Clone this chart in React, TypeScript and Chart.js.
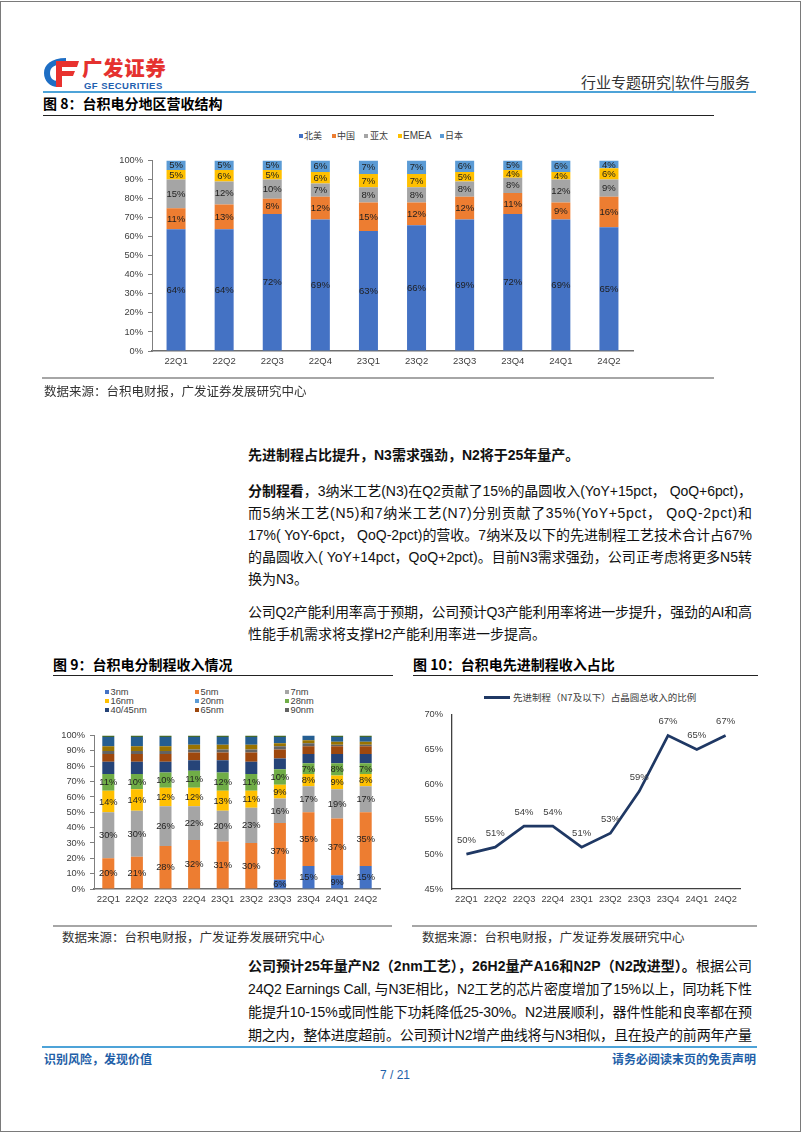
import React, { useEffect, useLayoutEffect, useRef } from "react";
import { Chart, registerables } from "chart.js";

Chart.register(...registerables);

// ---------- data ----------
const quarters = ["22Q1", "22Q2", "22Q3", "22Q4", "23Q1", "23Q2", "23Q3", "23Q4", "24Q1", "24Q2"];

// Fig 8: revenue by region (%)
const regionNames = ["北美", "中国", "亚太", "EMEA", "日本"];
const northAmerica = [64, 64, 72, 69, 63, 66, 69, 72, 69, 65];
const china = [11, 13, 8, 12, 15, 12, 12, 11, 9, 16];
const asiaPacific = [15, 12, 10, 7, 8, 8, 8, 8, 12, 9];
const emea = [5, 6, 5, 6, 7, 7, 5, 4, 4, 6];
const japan = [5, 5, 5, 6, 7, 7, 6, 5, 6, 4];
const regionColors = ["#4472C4", "#ED7D31", "#A5A5A5", "#FFC000", "#5B9BD5"];

// Fig 9: revenue by process node (%)
const nodeNames = ["3nm", "5nm", "7nm", "16nm", "20nm", "28nm", "40/45nm", "65nm", "90nm", "0.11/0.13um", "0.15/0.18um", "0.25um+"];
const node3 = [0, 0, 0, 0, 0, 0, 6, 15, 9, 15];
const node5 = [20, 21, 28, 32, 31, 30, 37, 35, 37, 35];
const node7 = [30, 30, 26, 22, 20, 23, 16, 17, 19, 17];
const node16 = [14, 14, 12, 12, 13, 11, 9, 8, 9, 8];
const node20 = [0, 0, 0, 0, 0, 0, 0, 0, 0, 0];
const node28 = [11, 10, 10, 11, 12, 11, 10, 7, 8, 7];
const node40 = [8, 8, 7, 7, 8, 8, 7, 6, 6, 6];
const node65 = [5, 5, 5, 5, 5, 6, 6, 5, 5, 5];
const node90 = [2, 2, 2, 2, 2, 2, 2, 2, 1, 1];
const node011 = [3, 3, 3, 3, 3, 3, 2, 2, 2, 2];
const node015 = [6, 6, 6, 5, 5, 5, 4, 3, 3, 3];
const node025 = [1, 1, 1, 1, 1, 1, 1, 0, 1, 1];
const nodeColors = ["#4472C4", "#ED7D31", "#A5A5A5", "#FFC000", "#5B9BD5", "#70AD47", "#264478", "#9E480E", "#636363", "#997300", "#255E91", "#43682B"];
const labeledNodes = [0, 1, 2, 3, 5];
const nodeLegendCount = 9;

// Fig 10: advanced process share (%)
const advancedLabel = "先进制程（N7及以下）占晶圆总收入的比例";
const advancedShare = [50, 51, 54, 54, 51, 53, 59, 67, 65, 67];

// y ticks
const pctMin = 0;
const pctMax = 100;
const pctStep = 10;
const advMin = 45;
const advMax = 70;
const advStep = 5;

// ---------- fonts ----------
const FONT_CJK = '"Noto Sans CJK SC", "Noto Sans", sans-serif';
const FONT_BODY = '"Liberation Sans Narrow", "Liberation Sans", "Noto Sans CJK SC", sans-serif';
const FONT_ARIAL = '"Liberation Sans", Arial, "Noto Sans CJK SC", sans-serif';

// ---------- plugins ----------
function barLabelPlugin(labeled: number[] | null, size: number, color: string) {
  return {
    id: "barLabels",
    afterDatasetsDraw(chart: any) {
      const ctx = chart.ctx;
      ctx.save();
      ctx.font = `${size}px "Liberation Sans", Arial, sans-serif`;
      ctx.fillStyle = color;
      ctx.textAlign = "center";
      ctx.textBaseline = "middle";
      chart.data.datasets.forEach((ds: any, di: number) => {
        if (labeled && !labeled.includes(di)) return;
        const meta = chart.getDatasetMeta(di);
        meta.data.forEach((el: any, i: number) => {
          const v = ds.data[i];
          if (!v) return;
          const p = el.getProps(["x", "y", "base"], true);
          ctx.fillText(v + "%", p.x, (p.y + p.base) / 2 + 0.5);
        });
      });
      ctx.restore();
    },
  };
}

const pointLabelPlugin = {
  id: "pointLabels",
  afterDatasetsDraw(chart: any) {
    const ctx = chart.ctx;
    ctx.save();
    ctx.font = '9.5px "Liberation Sans", Arial, sans-serif';
    ctx.fillStyle = "#404040";
    ctx.textAlign = "center";
    ctx.textBaseline = "middle";
    chart.data.datasets.forEach((ds: any, di: number) => {
      const meta = chart.getDatasetMeta(di);
      meta.data.forEach((el: any, i: number) => {
        const p = el.getProps(["x", "y"], true);
        ctx.fillText(ds.data[i] + "%", p.x, p.y - 14);
      });
    });
    ctx.restore();
  },
};

// ---------- configs ----------
function stackedConfig(
  series: number[][],
  names: string[],
  colors: string[],
  opts: { padTop: number; padRight: number; yW: number; xH: number; barPct: number; labeled: number[] | null; labelSize: number }
) {
  return {
    type: "bar",
    data: {
      labels: quarters,
      datasets: series.map((d, i) => ({
        label: names[i],
        data: d,
        backgroundColor: colors[i],
        borderWidth: 0,
        barPercentage: opts.barPct,
        categoryPercentage: 1,
      })),
    },
    options: {
      responsive: false,
      animation: false,
      devicePixelRatio: 1,
      layout: { padding: { top: opts.padTop, right: opts.padRight, left: 0, bottom: 0 } },
      plugins: { legend: { display: false }, tooltip: { enabled: false } },
      scales: {
        x: {
          stacked: true,
          grid: { display: false, drawTicks: false },
          border: { display: true, color: "#6f6f6f", width: 1.5 },
          ticks: { font: { family: FONT_ARIAL, size: 9.5 }, color: "#404040", padding: 5, maxRotation: 0, autoSkip: false },
          afterFit: (s: any) => {
            s.height = opts.xH;
          },
        },
        y: {
          stacked: true,
          min: pctMin,
          max: pctMax,
          ticks: {
            stepSize: pctStep,
            callback: (v: any) => v + "%",
            font: { family: FONT_ARIAL, size: 9.3 },
            color: "#404040",
            padding: 5,
          },
          grid: { display: true, drawOnChartArea: false, drawTicks: true, tickLength: 4, color: "#7f7f7f" },
          border: { display: true, color: "#7f7f7f", width: 1 },
          afterFit: (s: any) => {
            s.width = opts.yW;
          },
        },
      },
    },
    plugins: [barLabelPlugin(opts.labeled, opts.labelSize, "#1e1e1e")],
  };
}

function regionConfig() {
  return stackedConfig([northAmerica, china, asiaPacific, emea, japan], regionNames, regionColors, {
    padTop: 10,
    padRight: 27,
    yW: 52,
    xH: 29,
    barPct: 0.395,
    labeled: null,
    labelSize: 9.5,
  });
}

function nodeConfig() {
  return stackedConfig(
    [node3, node5, node7, node16, node20, node28, node40, node65, node90, node011, node015, node025],
    nodeNames,
    nodeColors,
    { padTop: 8, padRight: 15, yW: 54, xH: 26, barPct: 0.42, labeled: labeledNodes, labelSize: 9.3 }
  );
}

function advancedConfig() {
  return {
    type: "line",
    data: {
      labels: quarters,
      datasets: [
        {
          label: advancedLabel,
          data: advancedShare,
          borderColor: "#1F3864",
          borderWidth: 2.7,
          pointRadius: 0,
          tension: 0,
          fill: false,
        },
      ],
    },
    options: {
      responsive: false,
      animation: false,
      devicePixelRatio: 1,
      layout: { padding: { top: 7, right: 15, left: 0, bottom: 0 } },
      plugins: { legend: { display: false }, tooltip: { enabled: false } },
      scales: {
        x: {
          offset: true,
          grid: { display: false, drawTicks: false },
          border: { display: true, color: "#404040", width: 1.3 },
          ticks: { font: { family: FONT_ARIAL, size: 9.3 }, color: "#404040", padding: 5, maxRotation: 0, autoSkip: false },
          afterFit: (s: any) => {
            s.height = 26;
          },
        },
        y: {
          min: advMin,
          max: advMax,
          ticks: {
            stepSize: advStep,
            callback: (v: any) => v + "%",
            font: { family: FONT_ARIAL, size: 9.3 },
            color: "#404040",
            padding: 9,
          },
          grid: { display: false, drawTicks: false },
          border: { display: true, color: "#404040", width: 1.3 },
          afterFit: (s: any) => {
            s.width = 52;
          },
        },
      },
    },
    plugins: [pointLabelPlugin],
  };
}

// ---------- components ----------
function ChartCanvas({ left, top, width, height, make }: { left: number; top: number; width: number; height: number; make: () => any }) {
  const ref = useRef<HTMLCanvasElement>(null);
  useEffect(() => {
    const chart = new Chart(ref.current as HTMLCanvasElement, make());
    return () => chart.destroy();
  }, []);
  return <canvas ref={ref} width={width} height={height} style={{ position: "absolute", left, top, width, height }} />;
}

function Txt({
  x,
  y,
  size,
  children,
  color = "#000",
  weight = 400,
  family = FONT_CJK,
  align = "left",
  ls = 0,
}: {
  x: number;
  y: number;
  size: number;
  children: any;
  color?: string;
  weight?: number;
  family?: string;
  align?: "left" | "right" | "center";
  ls?: number;
}) {
  const lh = Math.round(size * 1.6);
  const style: React.CSSProperties = {
    position: "absolute",
    top: y - lh / 2,
    height: lh,
    lineHeight: lh + "px",
    fontSize: size,
    color,
    fontWeight: weight,
    fontFamily: family,
    whiteSpace: "nowrap",
    letterSpacing: ls,
  };
  if (align === "left") style.left = x;
  else if (align === "right") style.right = 802 - x;
  else {
    style.left = x;
    style.transform = "translateX(-50%)";
  }
  return <div style={style}>{children}</div>;
}

function BodyLine({ y, children, justify = true, left = 248, width = 504 }: { y: number; children: any; justify?: boolean; left?: number; width?: number }) {
  const ref = useRef<HTMLSpanElement>(null);
  useLayoutEffect(() => {
    const span = ref.current;
    if (!span || !justify) return;
    span.style.letterSpacing = "0px";
    const w = span.getBoundingClientRect().width;
    const n = Array.from(span.textContent || "").length;
    if (n > 1) span.style.letterSpacing = (width - w) / (n - 1) + "px";
  }, []);
  const lh = 22;
  return (
    <div
      style={{
        position: "absolute",
        left,
        top: y - lh / 2,
        height: lh,
        lineHeight: lh + "px",
        fontSize: 14,
        fontFamily: FONT_BODY,
        color: "#111",
        whiteSpace: "nowrap",
      }}
    >
      <span ref={ref}>{children}</span>
    </div>
  );
}

function Rule({ x, y, w, h = 1, color }: { x: number; y: number; w: number; h?: number; color: string }) {
  return <div style={{ position: "absolute", left: x, top: y, width: w, height: h, background: color }} />;
}

function Square({ x, y, color, s = 4 }: { x: number; y: number; color: string; s?: number }) {
  return <div style={{ position: "absolute", left: x, top: y - s / 2, width: s, height: s, background: color }} />;
}

const nodeLegendCols = [105, 195, 285];
const nodeLegendRows = [692, 701, 710];
const regionLegendSquares = [299, 332, 364, 398, 440];
const regionLegendTexts = [304, 337, 370, 403, 445];

export default function App() {
  const B = (s: string) => <b style={{ fontWeight: 700 }}>{s}</b>;
  return (
    <div style={{ position: "absolute", left: 0, top: 0, width: 802, height: 1133, background: "#fff", overflow: "hidden" }}>
      <div style={{ position: "absolute", left: 0, top: 1, width: 801, height: 1131, border: "1px solid #7a7a7a", boxSizing: "border-box" }} />

      {/* header */}
      <svg style={{ position: "absolute", left: 42, top: 56 }} width={38} height={33} viewBox="0 0 38 33">
        <path d="M 24 2 C 9 2, 2 9, 2 17 C 2 25, 8 31, 16 31 L 16 25 C 11 25, 8 22, 8 17 C 8 11, 13 8, 24 8 Z" fill="#1E6EC4" />
        <path d="M 14 5 L 37 5 L 35 11 L 20 11 L 20 15 L 33 15 L 31 20 L 20 20 L 20 31 L 14 31 Z" fill="#E8322F" />
      </svg>
      <Txt x={82} y={67} size={20.5} weight={900} color="#E5312F" ls={0.6}>广发证券</Txt>
      <Txt x={84} y={85} size={9.5} weight={700} color="#1F5FAF" family={FONT_ARIAL} ls={0.45}>GF SECURITIES</Txt>
      <Txt x={750} y={82} size={15} align="right" color="#333">行业专题研究|软件与服务</Txt>
      <Rule x={43} y={91} w={713} h={2} color="#4DA3D8" />

      {/* figure 8 */}
      <Txt x={43} y={103} size={14} weight={700}>图 8：台积电分地区营收结构</Txt>
      <Rule x={43} y={115} w={671} h={1} color="#222" />
      {regionNames.map((n, i) => (
        <React.Fragment key={n}>
          <Square x={regionLegendSquares[i]} y={136} color={regionColors[i]} s={3.5} />
          <Txt x={regionLegendTexts[i]} y={135.5} size={n === "EMEA" ? 10 : 9} family={n === "EMEA" ? FONT_ARIAL : FONT_CJK} color="#404040">
            {n}
          </Txt>
        </React.Fragment>
      ))}
      <ChartCanvas left={100} top={150} width={560} height={230} make={regionConfig} />
      <Rule x={42} y={377} w={672} h={2} color="#a6a6a6" />
      <Txt x={44} y={391} size={12.5} color="#333">数据来源：台积电财报，广发证券发展研究中心</Txt>

      {/* body text */}
      <BodyLine y={455} justify={false}>{B("先进制程占比提升，N3需求强劲，N2将于25年量产。")}</BodyLine>
      <BodyLine y={491}>{B("分制程看")}，3纳米工艺(N3)在Q2贡献了15%的晶圆收入(YoY+15pct， QoQ+6pct)，</BodyLine>
      <BodyLine y={513}>而5纳米工艺(N5)和7纳米工艺(N7)分别贡献了35%(YoY+5pct， QoQ-2pct)和</BodyLine>
      <BodyLine y={535}>17%( YoY-6pct， QoQ-2pct)的营收。7纳米及以下的先进制程工艺技术合计占67%</BodyLine>
      <BodyLine y={557}>的晶圆收入( YoY+14pct，QoQ+2pct)。目前N3需求强劲，公司正考虑将更多N5转</BodyLine>
      <BodyLine y={579} justify={false}>换为N3。</BodyLine>
      <BodyLine y={612}>公司Q2产能利用率高于预期，公司预计Q3产能利用率将进一步提升，强劲的AI和高</BodyLine>
      <BodyLine y={634} justify={false}>性能手机需求将支撑H2产能利用率进一步提高。</BodyLine>

      {/* figure 9 */}
      <Txt x={53} y={664} size={14} weight={700}>图 9：台积电分制程收入情况</Txt>
      <Rule x={53} y={675} w={340} h={1} color="#222" />
      {nodeNames.slice(0, nodeLegendCount).map((n, i) => (
        <React.Fragment key={n}>
          <Square x={nodeLegendCols[i % 3]} y={nodeLegendRows[Math.floor(i / 3)]} color={nodeColors[i]} s={3.5} />
          <Txt x={nodeLegendCols[i % 3] + 5.5} y={nodeLegendRows[Math.floor(i / 3)]} size={9.3} family={FONT_ARIAL} color="#404040">
            {n}
          </Txt>
        </React.Fragment>
      ))}
      <ChartCanvas left={40} top={725} width={355} height={190} make={nodeConfig} />
      <Rule x={53} y={925} w={339} h={2} color="#a6a6a6" />
      <Txt x={62} y={937} size={12.5} color="#333">数据来源：台积电财报，广发证券发展研究中心</Txt>

      {/* figure 10 */}
      <Txt x={413} y={664} size={14} weight={700}>图 10：台积电先进制程收入占比</Txt>
      <Rule x={413} y={675} w={345} h={1} color="#222" />
      <Rule x={484} y={696} w={26} h={2.7} color="#1F3864" />
      <Txt x={513} y={697} size={9.5} color="#404040">{advancedLabel}</Txt>
      <ChartCanvas left={400} top={700} width={355} height={215} make={advancedConfig} />
      <Rule x={412} y={925} w={345} h={2} color="#a6a6a6" />
      <Txt x={422} y={937} size={12.5} color="#333">数据来源：台积电财报，广发证券发展研究中心</Txt>

      {/* bottom paragraph */}
      <BodyLine y={966}>{B("公司预计25年量产N2（2nm工艺），26H2量产A16和N2P（N2改进型）。")}根据公司</BodyLine>
      <BodyLine y={989}>24Q2 Earnings Call, 与N3E相比，N2工艺的芯片密度增加了15%以上，同功耗下性</BodyLine>
      <BodyLine y={1012}>能提升10-15%或同性能下功耗降低25-30%。N2进展顺利，器件性能和良率都在预</BodyLine>
      <BodyLine y={1035}>期之内，整体进度超前。公司预计N2增产曲线将与N3相似，且在投产的前两年产量</BodyLine>

      {/* footer */}
      <Rule x={42} y={1046} w={715} h={2} color="#4DA3D8" />
      <Txt x={44} y={1058} size={12} weight={700} color="#1F5FA8">识别风险，发现价值</Txt>
      <Txt x={756} y={1058} size={12} weight={700} color="#1F5FA8" align="right">请务必阅读末页的免责声明</Txt>
      <Txt x={395} y={1075} size={12} color="#1F5FA8" align="center" family={FONT_ARIAL}>7 / 21</Txt>
    </div>
  );
}
